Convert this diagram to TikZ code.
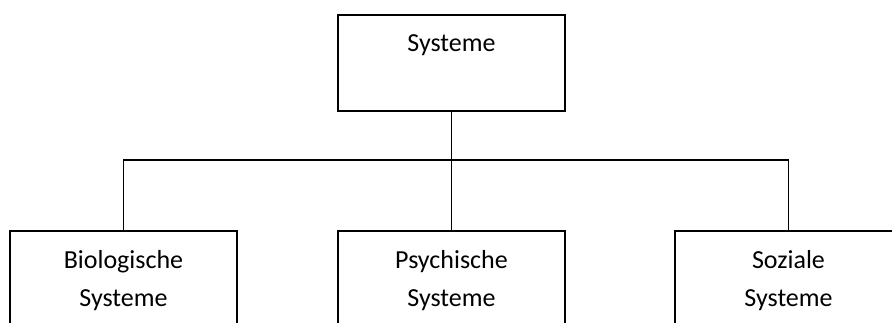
\documentclass[tikz,border=0pt]{standalone}
\usepackage{fontspec}
\setmainfont{Carlito}
\usetikzlibrary{calc}
\tikzset{
  box/.style={draw=black, line width=1.7pt, rectangle, minimum width=227pt, inner sep=0pt, outer sep=0pt},
  txt/.style={font=\fontsize{26}{38}\selectfont, anchor=base, inner sep=0pt},
  conn/.style={draw=black, line width=1.7pt}
}
\begin{document}
\begin{tikzpicture}[x=1pt,y=-1pt]
\useasboundingbox (0,0) rectangle (892,323);
\clip (0,0) rectangle (892,323);
\node[box, anchor=north west, minimum height=96pt] (sys) at (338,15) {};
\node[box, anchor=north west, minimum height=120pt] (bio) at (10,231) {};
\node[box, anchor=north west, minimum height=120pt] (psy) at (338,231) {};
\node[box, anchor=north west, minimum height=120pt] (soz) at (675,231) {};
\coordinate (bus) at (452,160);
\node[txt] (t0) at ($(sys.north)+(0,36.7)$) {Systeme};
\node[txt] (t1) at ($(bio.north)+(0,37.3)$) {Biologische};
\node[txt] (t2) at ($(bio.north)+(0,75.6)$) {Systeme};
\node[txt] (t3) at ($(psy.north)+(0,37.3)$) {Psychische};
\node[txt] (t4) at ($(psy.north)+(0,75.6)$) {Systeme};
\node[txt] (t5) at ($(soz.north)+(0,37.3)$) {Soziale};
\node[txt] (t6) at ($(soz.north)+(0,75.6)$) {Systeme};
\draw[conn] (sys.south) -- (psy.north);
\draw[conn] (bio.north) |- (bus) -| (soz.north);
\end{tikzpicture}
\end{document}
